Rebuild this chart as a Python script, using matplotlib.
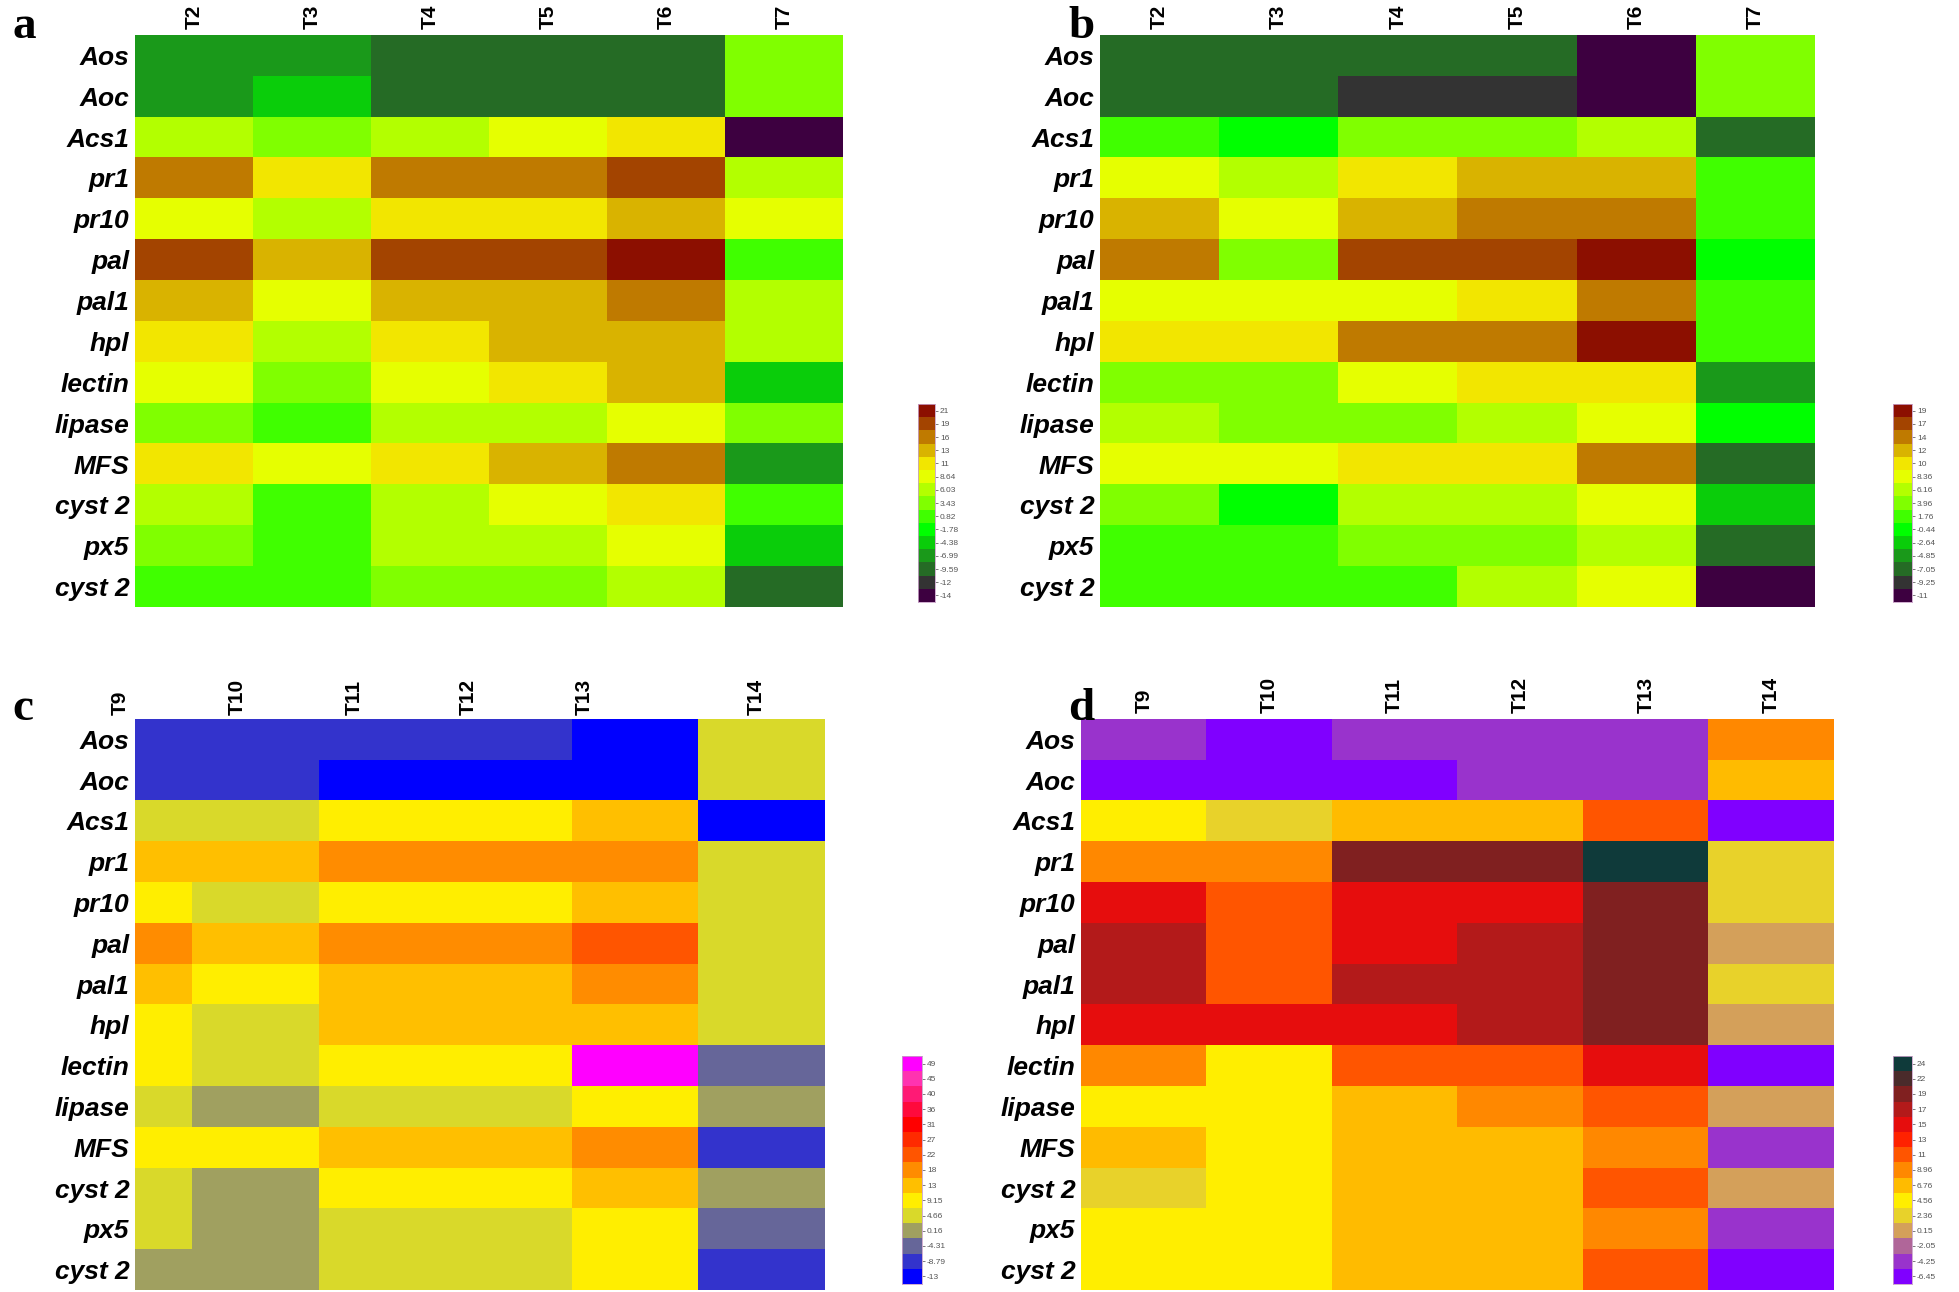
import numpy as np
import matplotlib
matplotlib.use('Agg')
import matplotlib.pyplot as plt
from matplotlib import colors, transforms

plt.rcParams['font.family'] = ['Liberation Sans', 'DejaVu Sans']

genes = ['Aos', 'Aoc', 'Acs1', 'pr1', 'pr10', 'pal', 'pal1', 'hpl', 'lectin',
         'lipase', 'MFS', 'cyst 2', 'px5', 'cyst 2']
times_ab = ['T2', 'T3', 'T4', 'T5', 'T6', 'T7']
times_cd = ['T9', 'T10', 'T11', 'T12', 'T13', 'T14']

# colour bar levels (one per colour step)
lev_a = [-14, -12, -9.59, -6.99, -4.38, -1.78, 0.82, 3.43, 6.03, 8.64, 11, 13, 16, 19, 21]
lev_b = [-11, -9.25, -7.05, -4.85, -2.64, -0.44, 1.76, 3.96, 6.16, 8.36, 10, 12, 14, 17, 19]
lev_c = [-13, -8.79, -4.31, 0.16, 4.66, 9.15, 13, 18, 22, 27, 31, 36, 40, 45, 49]
lev_d = [-6.45, -4.25, -2.05, 0.15, 2.36, 4.56, 6.76, 8.96, 11, 13, 15, 17, 19, 22, 24]

col_ab = ['#3d0040', '#333333', '#256b25', '#1a991a', '#0acd0a', '#00ff00', '#40ff00',
          '#80ff00', '#b3ff00', '#e6ff00', '#f2e600', '#d9b300', '#bf7a00', '#a34400', '#8c0f00']
col_c = ['#0000ff', '#3333cc', '#666699', '#a0a060', '#d9d92a', '#ffee00', '#ffbf00',
         '#ff8c00', '#ff5500', '#ff2a00', '#ff0000', '#ff0a3c', '#ff1a75', '#ff33b0', '#ff00ff']
col_d = ['#8000ff', '#9933cc', '#b06699', '#d4a05a', '#e8d22a', '#ffee00', '#ffbb00',
         '#ff8800', '#ff5500', '#ff2200', '#e60d0d', '#b31a1a', '#802020', '#4a2b2b', '#0f3a3a']

val_a = [[-6.99, -6.99, -9.59, -9.59, -9.59, 3.43],
         [-6.99, -4.38, -9.59, -9.59, -9.59, 3.43],
         [6.03, 3.43, 6.03, 8.64, 11, -14],
         [16, 11, 16, 16, 19, 6.03],
         [8.64, 6.03, 11, 11, 13, 8.64],
         [19, 13, 19, 19, 21, 0.82],
         [13, 8.64, 13, 13, 16, 6.03],
         [11, 6.03, 11, 13, 13, 6.03],
         [8.64, 3.43, 8.64, 11, 13, -4.38],
         [3.43, 0.82, 6.03, 6.03, 8.64, 3.43],
         [11, 8.64, 11, 13, 16, -6.99],
         [6.03, 0.82, 6.03, 8.64, 11, 0.82],
         [3.43, 0.82, 6.03, 6.03, 8.64, -4.38],
         [0.82, 0.82, 3.43, 3.43, 6.03, -9.59]]

val_b = [[-7.05, -7.05, -7.05, -7.05, -11, 3.96],
         [-7.05, -7.05, -9.25, -9.25, -11, 3.96],
         [1.76, -0.44, 3.96, 3.96, 6.16, -7.05],
         [8.36, 6.16, 10, 12, 12, 1.76],
         [12, 8.36, 12, 14, 14, 1.76],
         [14, 3.96, 17, 17, 19, -0.44],
         [8.36, 8.36, 8.36, 10, 14, 1.76],
         [10, 10, 14, 14, 19, 1.76],
         [3.96, 3.96, 8.36, 10, 10, -4.85],
         [6.16, 3.96, 3.96, 6.16, 8.36, -0.44],
         [8.36, 8.36, 10, 10, 14, -7.05],
         [3.96, -0.44, 6.16, 6.16, 8.36, -2.64],
         [1.76, 1.76, 3.96, 3.96, 6.16, -7.05],
         [1.76, 1.76, 1.76, 6.16, 8.36, -11]]

val_c = [[-8.79, -8.79, -8.79, -8.79, -13, 4.66],
         [-8.79, -8.79, -13, -13, -13, 4.66],
         [4.66, 4.66, 9.15, 9.15, 13, -13],
         [13, 13, 18, 18, 18, 4.66],
         [9.15, 4.66, 9.15, 9.15, 13, 4.66],
         [18, 13, 18, 18, 22, 4.66],
         [13, 9.15, 13, 13, 18, 4.66],
         [9.15, 4.66, 13, 13, 13, 4.66],
         [9.15, 4.66, 9.15, 9.15, 49, -4.31],
         [4.66, 0.16, 4.66, 4.66, 9.15, 0.16],
         [9.15, 9.15, 13, 13, 18, -8.79],
         [4.66, 0.16, 9.15, 9.15, 13, 0.16],
         [4.66, 0.16, 4.66, 4.66, 9.15, -4.31],
         [0.16, 0.16, 4.66, 4.66, 9.15, -8.79]]

val_d = [[-4.25, -6.45, -4.25, -4.25, -4.25, 8.96],
         [-6.45, -6.45, -6.45, -4.25, -4.25, 6.76],
         [4.56, 2.36, 6.76, 6.76, 11, -6.45],
         [8.96, 8.96, 19, 19, 24, 2.36],
         [15, 11, 15, 15, 19, 2.36],
         [17, 11, 15, 17, 19, 0.15],
         [17, 11, 17, 17, 19, 2.36],
         [15, 15, 15, 17, 19, 0.15],
         [8.96, 4.56, 11, 11, 15, -6.45],
         [4.56, 4.56, 6.76, 8.96, 11, 0.15],
         [6.76, 4.56, 6.76, 6.76, 8.96, -4.25],
         [2.36, 4.56, 6.76, 6.76, 11, 0.15],
         [4.56, 4.56, 6.76, 6.76, 8.96, -4.25],
         [4.56, 4.56, 6.76, 6.76, 11, -6.45]]


W, H = 1959.0, 1292.0
def box(x0, y0, x1, y1):
    return [x0 / W, 1 - y1 / H, (x1 - x0) / W, (y1 - y0) / H]


def heat(ax, vals, lev, cols, times):
    cmap = colors.ListedColormap(cols)
    norm = colors.BoundaryNorm(lev + [lev[-1] + 100], cmap.N)
    ax.imshow(np.array(vals), cmap=cmap, norm=norm, aspect='auto', interpolation='nearest')
    ax.xaxis.tick_top()
    ax.set_xticks(range(len(times)))
    ax.set_xticklabels(times, rotation=90, fontsize=15, fontweight='bold')
    ax.set_yticks(range(len(genes)))
    ax.set_yticklabels(genes, fontsize=19, fontweight='bold', fontstyle='italic',
                       family=['Liberation Sans Narrow', 'Liberation Sans'])
    ax.tick_params(length=0, pad=4)
    for s in ax.spines.values():
        s.set_visible(False)


def cbar(cax, lev, cols):
    cmap = colors.ListedColormap(cols)
    cax.imshow(np.arange(len(lev))[:, None], cmap=cmap, origin='lower', aspect='auto',
               interpolation='nearest')
    cax.set_xticks([])
    cax.yaxis.tick_right()
    cax.set_yticks(np.arange(len(lev)))
    cax.set_yticklabels(['%g' % v for v in lev], fontsize=6, color='#555555')
    cax.tick_params(axis='y', length=2.5, width=0.6, pad=1, colors='#666666', labelcolor='#555555')
    for s in cax.spines.values():
        s.set_color('#c8a0c8')
        s.set_linewidth(0.6)


fig = plt.figure(figsize=(19.59, 12.92), dpi=100)

ax_a = fig.add_axes(box(135, 35, 843, 607))
heat(ax_a, val_a, lev_a, col_ab, times_ab)
ax_b = fig.add_axes(box(1100, 35, 1815, 607))
heat(ax_b, val_b, lev_b, col_ab, times_ab)

# panel c: first column partly cut off, labels placed by hand along the top
ax_c = fig.add_axes(box(135, 719, 825, 1290))
heat(ax_c, val_c, lev_c, col_c, times_cd)
ax_c.set_xlim(0.05, 5.5)
ax_c.set_xticks([])
trans = transforms.blended_transform_factory(ax_c.transData, ax_c.transAxes)
for t, x in zip(times_cd, [-0.07, 0.86, 1.78, 2.68, 3.6, 4.96]):
    ax_c.text(x, 1.007, t, transform=trans, rotation=90, fontsize=15, fontweight='bold',
              ha='center', va='bottom')

ax_d = fig.add_axes(box(1081, 719, 1834, 1290))
heat(ax_d, val_d, lev_d, col_d, times_cd)

cbar(fig.add_axes(box(918, 404, 935, 602)), lev_a, col_ab)
cbar(fig.add_axes(box(1893, 404, 1912, 602)), lev_b, col_ab)
cbar(fig.add_axes(box(902, 1056, 922, 1284)), lev_c, col_c)
cbar(fig.add_axes(box(1893, 1056, 1912, 1284)), lev_d, col_d)

for lab, x, y in [('a', 12, 38), ('b', 1068, 38), ('c', 12, 720), ('d', 1068, 720)]:
    fig.text(x / W, 1 - y / H, lab, family='Liberation Serif', fontweight='bold',
             fontsize=34, va='baseline', ha='left')

fig.savefig('out.png', dpi=100)
